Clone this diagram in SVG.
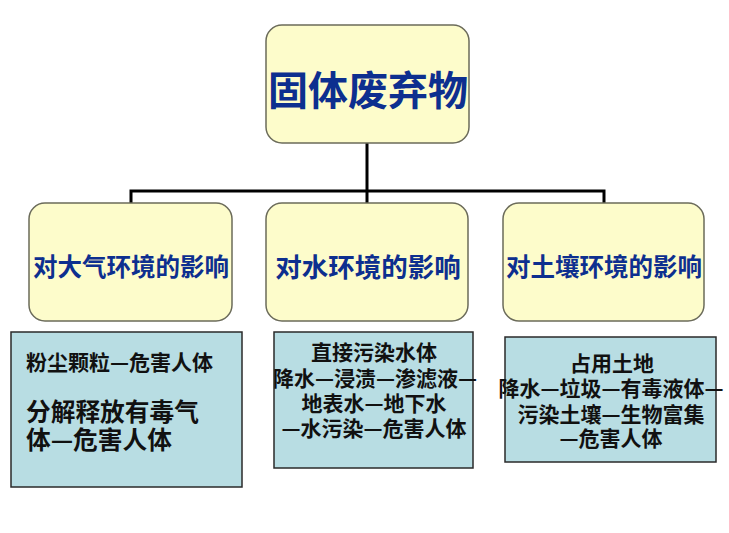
<svg xmlns="http://www.w3.org/2000/svg" width="729" height="533" viewBox="0 0 729 533">
<style>
.hd{fill:#fdfccb;stroke:#6b6b5a;stroke-width:1.5}
.bx{fill:#b8dde3;stroke:#2a2a2a;stroke-width:1.5}
.ht{font-family:"Noto Sans CJK SC","Noto Sans CJK TC",sans-serif;font-weight:bold;fill:#0d2f8f;text-anchor:middle;dominant-baseline:central}
.bt{font-family:"Noto Sans CJK SC","Noto Sans CJK TC",sans-serif;font-weight:bold;fill:#111;font-size:21px;dominant-baseline:central}
.c{text-anchor:middle}
.cn{fill:none;stroke:#000;stroke-width:3}
</style>
<rect width="729" height="533" fill="#fff"/>
<g id="connectors">
<path class="cn" d="M367 143 V191 M131 203 V191 H604 V203 M367 191 V203"/>
</g>
<g id="root">
<rect class="hd" x="266" y="25" width="203" height="118" rx="16"/>
<text class="ht" x="368" y="88" font-size="40">固体废弃物</text>
</g>
<g id="air">
<rect class="hd" x="29" y="203" width="203" height="118" rx="16"/>
<text class="ht" x="131" y="265" font-size="24.5">对大气环境的影响</text>
</g>
<g id="water">
<rect class="hd" x="266" y="203" width="202" height="118" rx="16"/>
<text class="ht" x="368" y="265" font-size="26.5">对水环境的影响</text>
</g>
<g id="soil">
<rect class="hd" x="503" y="203" width="201" height="118" rx="16"/>
<text class="ht" x="604" y="265" font-size="24.5">对土壤环境的影响</text>
</g>
<g id="air-detail">
<rect class="bx" x="11" y="332" width="231" height="155"/>
<text class="bt" x="26" y="361" font-size="20.5">粉尘颗粒—危害人体</text>
<text class="bt" style="font-size:24.7px"><tspan x="26" y="410">分解释放有毒气</tspan><tspan x="26" y="438">体—危害人体</tspan></text>
</g>
<g id="water-detail">
<rect class="bx" x="274" y="332" width="199" height="136"/>
<text class="bt c"><tspan x="374" y="351">直接污染水体</tspan><tspan x="375" y="377">降水—浸渍—渗滤液—</tspan><tspan x="374" y="402">地表水—地下水</tspan><tspan x="374" y="427">—水污染—危害人体</tspan></text>
</g>
<g id="soil-detail">
<rect class="bx" x="505" y="337" width="211" height="125"/>
<text class="bt c"><tspan x="612" y="362">占用土地</tspan><tspan x="611" y="387">降水—垃圾—有毒液体—</tspan><tspan x="611" y="413">污染土壤—生物富集</tspan><tspan x="611" y="437">—危害人体</tspan></text>
</g>
</svg>
